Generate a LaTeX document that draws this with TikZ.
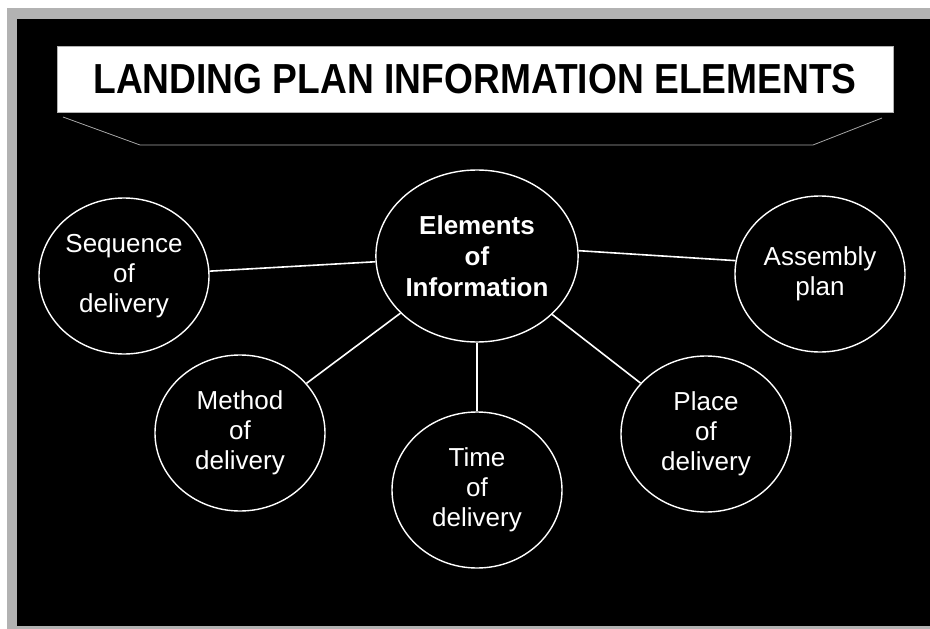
\documentclass[tikz,border=0pt]{standalone}
\usepackage{graphicx}
\usepackage{fontspec}
\setmainfont{Liberation Sans}
\usetikzlibrary{shapes.geometric}

\begin{document}
\begin{tikzpicture}[x=1pt, y=-1pt,
  titlebox/.style={draw=gray!60, fill=white, minimum width=836pt, minimum height=66pt, inner sep=0pt, font=\fontsize{42}{42}\selectfont\bfseries},
  bubble/.style={draw=white, line width=1.4pt, fill=black, ellipse, minimum width=170pt, minimum height=156pt, inner sep=0pt, align=center, text=white, font=\fontsize{26}{30}\selectfont},
  hub/.style={bubble, minimum width=190pt, minimum height=172pt, font=\fontsize{26}{31}\selectfont\bfseries},
  link/.style={draw=white, line width=1.6pt}
]
\useasboundingbox (0,0) rectangle (930,629);
% frame and dark field
\fill[white] (0,0) rectangle (930,629);
\fill[gray!60] (7,8) rectangle (930,629);
\fill[black] (17,19) rectangle (930,626);

% title banner
\node[titlebox] (title) at (475,79) {\scalebox{0.885}[1]{LANDING PLAN INFORMATION ELEMENTS}};
\draw[gray!70, line width=0.8pt] (63,117) -- (140,145) -- (813,145) -- (882,118);

% elements
\node[hub] (elem) at (477,256) {Elements\\of\\Information};
\node[bubble] (seq) at (124,276) {Sequence\\of\\delivery};
\node[bubble] (asm) at (820,274) {Assembly\\plan};
\node[bubble] (meth) at (240,433) {Method\\of\\delivery};
\node[bubble] (time) at (477,490) {Time\\of\\delivery};
\node[bubble] (place) at (706,434) {Place\\of\\delivery};

% connectors
\draw[link] (seq) -- (elem);
\draw[link] (elem.3) -- (asm.171);
\draw[link] (elem) -- (meth);
\draw[link] (elem) -- (time);
\draw[link] (elem) -- (place);
\end{tikzpicture}
\end{document}
